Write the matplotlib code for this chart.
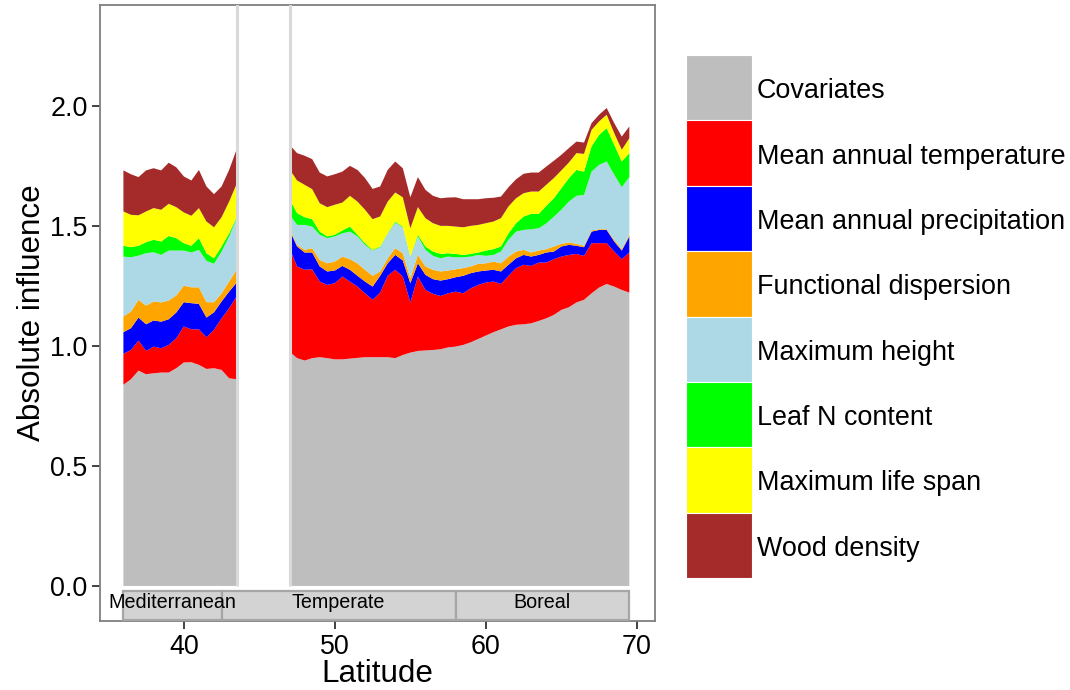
import numpy as np
import matplotlib
matplotlib.use("Agg")
import matplotlib.pyplot as plt
from matplotlib.patches import Rectangle

plt.rcParams['font.family'] = ['Liberation Sans', 'DejaVu Sans']

# Latitude grid (two sampled segments: Mediterranean, then Temperate/Boreal)
latitude = [36.0, 36.5, 37.0, 37.5, 38.0, 38.5, 39.0, 39.5, 40.0, 40.5, 41.0, 41.5,
            42.0, 42.5, 43.0, 43.5,
            47.0, 47.5, 48.0, 48.5, 49.0, 49.5, 50.0, 50.5, 51.0, 51.5,
            52.0, 52.5, 53.0, 53.5, 54.0, 54.5, 55.0, 55.5, 56.0, 56.5,
            57.0, 57.5, 58.0, 58.5, 59.0, 59.5, 60.0, 60.5, 61.0, 61.5,
            62.0, 62.5, 63.0, 63.5, 64.0, 64.5, 65.0, 65.5, 66.0, 66.5,
            67.0, 67.5, 68.0, 68.5, 69.0, 69.5]

covariates = [0.838, 0.861, 0.897, 0.882, 0.886, 0.889, 0.889, 0.907, 0.931, 0.932, 0.921, 0.904,
              0.907, 0.900, 0.865, 0.861,
              0.976, 0.949, 0.939, 0.949, 0.953, 0.949, 0.944, 0.944, 0.947, 0.950,
              0.953, 0.953, 0.953, 0.953, 0.949, 0.962, 0.972, 0.979, 0.981, 0.983,
              0.986, 0.994, 0.997, 1.004, 1.015, 1.029, 1.043, 1.057, 1.069, 1.081,
              1.088, 1.090, 1.094, 1.104, 1.115, 1.129, 1.150, 1.161, 1.181, 1.192,
              1.219, 1.243, 1.258, 1.247, 1.233, 1.222]

temperature = [0.129, 0.122, 0.125, 0.097, 0.111, 0.101, 0.115, 0.125, 0.150, 0.137, 0.148, 0.132,
               0.160, 0.215, 0.292, 0.345,
               0.431, 0.382, 0.378, 0.370, 0.315, 0.305, 0.317, 0.345, 0.321, 0.297,
               0.266, 0.239, 0.269, 0.339, 0.368, 0.327, 0.209, 0.310, 0.252, 0.234,
               0.222, 0.225, 0.229, 0.215, 0.225, 0.225, 0.221, 0.211, 0.189, 0.211,
               0.236, 0.248, 0.239, 0.243, 0.232, 0.232, 0.222, 0.218, 0.202, 0.183,
               0.209, 0.185, 0.170, 0.146, 0.128, 0.167]

precipitation = [0.090, 0.091, 0.096, 0.111, 0.109, 0.111, 0.107, 0.107, 0.101, 0.109, 0.106, 0.082,
                 0.073, 0.070, 0.069, 0.058,
                 0.076, 0.083, 0.072, 0.070, 0.063, 0.056, 0.053, 0.044, 0.049, 0.045,
                 0.049, 0.055, 0.070, 0.052, 0.062, 0.067, 0.080, 0.055, 0.063, 0.061,
                 0.064, 0.059, 0.060, 0.073, 0.063, 0.056, 0.050, 0.049, 0.052, 0.046,
                 0.041, 0.041, 0.039, 0.032, 0.042, 0.032, 0.042, 0.042, 0.034, 0.036,
                 0.048, 0.055, 0.055, 0.042, 0.036, 0.067]

dispersion = [0.065, 0.069, 0.074, 0.078, 0.079, 0.080, 0.078, 0.071, 0.069, 0.066, 0.069, 0.064,
              0.042, 0.034, 0.042, 0.053,
              0.007, 0.007, 0.011, 0.018, 0.027, 0.034, 0.037, 0.039, 0.044, 0.052,
              0.049, 0.045, 0.018, 0.021, 0.028, 0.030, 0.021, 0.035, 0.035, 0.039,
              0.038, 0.036, 0.033, 0.032, 0.028, 0.032, 0.030, 0.034, 0.034, 0.034,
              0.028, 0.021, 0.017, 0.018, 0.014, 0.021, 0.011, 0.010, 0.008, 0.006,
              0.005, 0.003, 0.003, 0.007, 0.006, 0.007]

max_height = [0.250, 0.226, 0.184, 0.218, 0.205, 0.198, 0.208, 0.187, 0.146, 0.145, 0.156, 0.172,
              0.160, 0.174, 0.187, 0.215,
              0.056, 0.083, 0.104, 0.090, 0.105, 0.105, 0.105, 0.097, 0.115, 0.112,
              0.104, 0.105, 0.101, 0.102, 0.107, 0.108, 0.090, 0.077, 0.069, 0.058,
              0.055, 0.058, 0.050, 0.045, 0.041, 0.037, 0.031, 0.028, 0.049, 0.070,
              0.083, 0.083, 0.097, 0.093, 0.107, 0.124, 0.142, 0.170, 0.200, 0.212,
              0.245, 0.268, 0.282, 0.271, 0.258, 0.240]

leaf_n = [0.045, 0.042, 0.041, 0.046, 0.052, 0.056, 0.061, 0.052, 0.031, 0.028, 0.049, 0.032,
          0.023, 0.021, 0.014, 0.004,
          0.065, 0.049, 0.032, 0.031, 0.013, 0.007, 0.007, 0.012, 0.021, 0.007,
          0.007, 0.003, 0.003, 0.002, 0.004, 0.003, 0.000, 0.007, 0.014, 0.018,
          0.018, 0.014, 0.014, 0.010, 0.011, 0.010, 0.022, 0.024, 0.021, 0.027,
          0.035, 0.056, 0.064, 0.060, 0.073, 0.077, 0.090, 0.098, 0.108, 0.097,
          0.105, 0.125, 0.139, 0.125, 0.107, 0.100]

life_span = [0.143, 0.135, 0.127, 0.128, 0.132, 0.132, 0.134, 0.129, 0.128, 0.125, 0.125, 0.132,
             0.129, 0.122, 0.132, 0.139,
             0.125, 0.136, 0.135, 0.125, 0.118, 0.122, 0.125, 0.116, 0.128, 0.138,
             0.139, 0.128, 0.125, 0.132, 0.121, 0.122, 0.118, 0.115, 0.118, 0.118,
             0.117, 0.114, 0.114, 0.115, 0.117, 0.115, 0.114, 0.115, 0.118, 0.112,
             0.104, 0.097, 0.093, 0.093, 0.088, 0.084, 0.074, 0.065, 0.070, 0.074,
             0.069, 0.056, 0.056, 0.048, 0.049, 0.062]

wood_density = [0.171, 0.169, 0.159, 0.171, 0.166, 0.164, 0.171, 0.166, 0.150, 0.147, 0.159, 0.146,
                0.138, 0.128, 0.132, 0.144,
                0.102, 0.114, 0.121, 0.125, 0.128, 0.128, 0.127, 0.129, 0.125, 0.132,
                0.132, 0.126, 0.125, 0.132, 0.129, 0.121, 0.129, 0.125, 0.118, 0.114,
                0.115, 0.118, 0.122, 0.117, 0.111, 0.107, 0.104, 0.099, 0.090, 0.080,
                0.079, 0.081, 0.079, 0.079, 0.076, 0.072, 0.065, 0.060, 0.048, 0.047,
                0.028, 0.028, 0.028, 0.042, 0.055, 0.049]

series_labels = ["Covariates", "Mean annual temperature", "Mean annual precipitation",
                 "Functional dispersion", "Maximum height", "Leaf N content",
                 "Maximum life span", "Wood density"]
series_colors = ["#BEBEBE", "#FF0000", "#0000FF", "#FFA500",
                 "#ADD8E6", "#00FF00", "#FFFF00", "#A52A2A"]

biomes = ["Mediterranean", "Temperate", "Boreal"]
biome_start = [36.0, 42.5, 58.0]
biome_end = [42.5, 58.0, 69.5]
gap_edges = [43.5, 47.0]

x_ticks = [40, 50, 60, 70]
y_ticks = [0.0, 0.5, 1.0, 1.5, 2.0]

fig = plt.figure(figsize=(10.7, 6.9), dpi=100)
ax = fig.add_axes([100 / 1070, 1 - 621 / 690, 555 / 1070, 616 / 690])

lat = np.array(latitude)
stack = np.vstack([covariates, temperature, precipitation, dispersion,
                   max_height, leaf_n, life_span, wood_density])

# split into contiguous segments where the latitude sampling is unbroken
breaks = np.where(np.diff(lat) > 1.0)[0] + 1
for idx in np.split(np.arange(len(lat)), breaks):
    ax.stackplot(lat[idx], stack[:, idx], colors=series_colors, linewidth=0)

for xg in gap_edges:
    ax.plot([xg, xg], [0, 2.45], color="#D9D9D9", lw=2.2, zorder=3, solid_capstyle="butt")

# biome band under the curves
for name, s, e in zip(biomes, biome_start, biome_end):
    ax.add_patch(Rectangle((s, -0.14), e - s, 0.118, facecolor="#D3D3D3",
                           edgecolor="#A6A6A6", lw=1.6, zorder=4, clip_on=False))
    ax.text((s + e) / 2, -0.07, name, ha="center", va="center", fontsize=14.2, zorder=5)

ax.set_xlim(34.45, 71.2)
ax.set_ylim(-0.146, 2.42)
ax.set_xticks(x_ticks)
ax.set_yticks(y_ticks)
ax.set_yticklabels([f"{v:.1f}" for v in y_ticks])
ax.tick_params(axis="both", labelsize=19.4, length=6, width=1.3, color="#333333",
               direction="out", pad=3)
for sp in ax.spines.values():
    sp.set_color("#7F7F7F")
    sp.set_linewidth(1.3)
ax.set_xlabel("Latitude", fontsize=22.6, labelpad=0)
ax.set_ylabel("Absolute influence", fontsize=22.6, labelpad=2)

# legend drawn as a column of coloured keys
leg = fig.add_axes([686 / 1070, 1 - 578 / 690, 384 / 1070, 523 / 690])
leg.set_xlim(0, 384)
leg.set_ylim(0, 523)
leg.axis("off")
key_h = 523 / len(series_labels)
for i, (lab, col) in enumerate(zip(series_labels, series_colors)):
    y0 = 523 - (i + 1) * key_h
    leg.add_patch(Rectangle((0, y0), 66, key_h, facecolor=col, edgecolor="white", lw=0.8))
    leg.text(71, y0 + key_h / 2 - 3.5, lab, ha="left", va="center", fontsize=19.4)

fig.savefig("out.png", dpi=100)
